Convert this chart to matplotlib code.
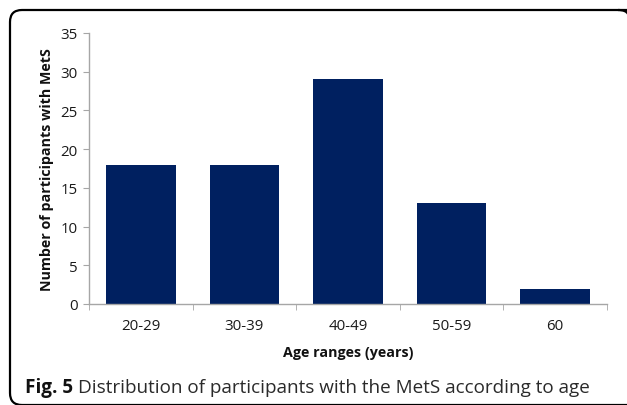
import matplotlib
matplotlib.use("Agg")
import matplotlib.pyplot as plt
from matplotlib.path import Path
from matplotlib.patches import PathPatch

# data
age_ranges = ["20-29", "30-39", "40-49", "50-59", "60"]
counts = [18, 18, 29, 13, 2]
y_ticks = [0, 5, 10, 15, 20, 25, 30, 35]

plt.rcParams['font.family'] = ['Open Sans', 'DejaVu Sans']

W, H = 627, 406
fig = plt.figure(figsize=(W / 100, H / 100), dpi=100)
fig.patch.set_facecolor("white")


def fp(px, py):
    # pixel position (from top-left) -> figure fraction
    return (px / W, 1 - py / H)


# rounded frame: top and left edges, corners rounded, right/bottom run off
r = 12
verts = [fp(640, 11), fp(10 + r, 11), fp(10, 11), fp(10, 11 + r),
         fp(10, 406 - r), fp(10, 406), fp(10 + r, 406), fp(640, 406)]
codes = [Path.MOVETO, Path.LINETO, Path.CURVE3, Path.CURVE3,
         Path.LINETO, Path.CURVE3, Path.CURVE3, Path.LINETO]
frame = PathPatch(Path(verts, codes), transform=fig.transFigure, fill=False,
                  edgecolor="black", linewidth=1.6)
fig.patches.append(frame)
# small curl at the top-right corner
verts2 = [fp(618, 11), fp(626, 11), fp(628, 15)]
fig.patches.append(PathPatch(Path(verts2, [Path.MOVETO, Path.CURVE3, Path.CURVE3]),
                             transform=fig.transFigure, fill=False,
                             edgecolor="black", linewidth=1.6))

ax = fig.add_axes([89 / W, 1 - 305 / H, (607 - 89) / W, (305 - 34) / H])
x = list(range(len(age_ranges)))
ax.bar(x, counts, width=0.67, color="#002060")

ax.set_xlim(-0.5, len(age_ranges) - 0.5)
ax.set_ylim(0, 35)
ax.set_yticks(y_ticks)
ax.set_xticks(x)
ax.set_xticklabels(age_ranges)
ax.set_xticks([i - 0.5 for i in range(len(age_ranges) + 1)], minor=True)

for s in ["top", "right"]:
    ax.spines[s].set_visible(False)
for s in ["left", "bottom"]:
    ax.spines[s].set_color("#a6a6a6")
    ax.spines[s].set_linewidth(1.0)

ax.tick_params(axis="x", which="major", length=0, pad=10, labelsize=10.8, colors="#1a1a1a")
ax.tick_params(axis="x", which="minor", length=4, color="#a6a6a6", direction="out")
ax.tick_params(axis="y", length=4, color="#a6a6a6", pad=4, labelsize=10.8, labelcolor="#1a1a1a")

ax.set_ylabel("Number of participants with MetS", fontsize=10.3, fontweight="bold",
              labelpad=5, color="#111111")
ax.set_xlabel("Age ranges (years)", fontsize=10.3, fontweight="bold",
              labelpad=9, color="#111111")

base = 1 - 393 / H
cap = fig.text(25 / W, base, "Fig. 5", fontsize=13.6, fontweight="bold",
               va="baseline", ha="left", color="#111111")
fig.canvas.draw()
bb = cap.get_window_extent()
fig.text((bb.x1 + 5) / W, base,
         "Distribution of participants with the MetS according to age",
         fontsize=13.6, va="baseline", ha="left", color="#2a2a2a")

fig.savefig("out.png", dpi=100)
